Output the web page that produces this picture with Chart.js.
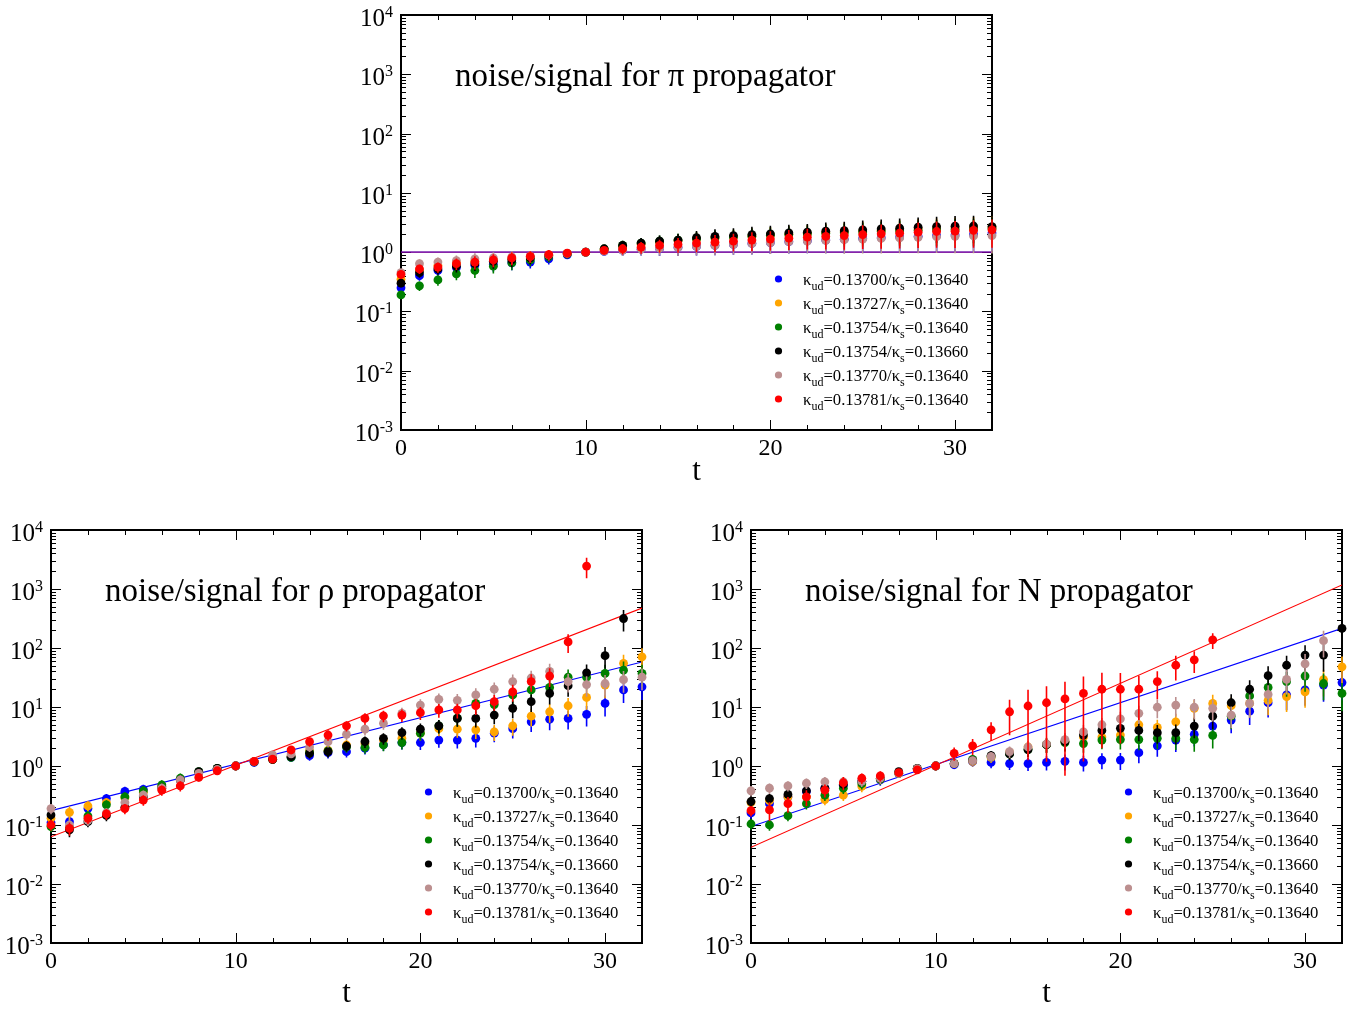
<!DOCTYPE html>
<html>
<head>
<meta charset="utf-8">
<script src="https://cdn.jsdelivr.net/npm/chart.js@4.4.1/dist/chart.umd.min.js"></script>
<style>
  body { margin: 0; background: #fff; width: 1361px; height: 1011px; position: relative; overflow: hidden; }
  canvas { position: absolute; }
</style>
</head>
<body>
<canvas id="piChart" width="680" height="500" style="left:340px;top:0px"></canvas>
<canvas id="rhoChart" width="680" height="506" style="left:0px;top:505px"></canvas>
<canvas id="nChart" width="661" height="506" style="left:700px;top:505px"></canvas>
<script>
// time slices
var tValues = [0,1,2,3,4,5,6,7,8,9,10,11,12,13,14,15,16,17,18,19,20,21,22,23,24,25,26,27,28,29,30,31,32];
var xTickLabels = [0, 10, 20, 30];
var yExponents = [-3, -2, -1, 0, 1, 2, 3, 4];
var kappaUd = ['0.13700', '0.13727', '0.13754', '0.13754', '0.13770', '0.13781'];
var kappaS  = ['0.13640', '0.13640', '0.13640', '0.13660', '0.13640', '0.13640'];

// pi propagator noise/signal
var piBlue   = [0.25,0.4,0.49,0.55,0.6,0.62,0.66,0.68,0.77,0.9,1.0,1.03,1.08,1.12,1.15,1.2,1.25,1.3,1.35,1.4,1.45,1.5,1.55,1.6,1.65,1.7,1.75,1.8,1.85,1.9,1.95,2.0,2.1];
var piOrange = [0.35,0.5,0.6,0.66,0.7,0.74,0.78,0.83,0.88,0.94,1.0,1.12,1.25,1.36,1.45,1.55,1.65,1.73,1.8,1.88,1.95,2.0,2.08,2.15,2.2,2.27,2.33,2.4,2.47,2.52,2.58,2.62,2.65];
var piGreen  = [0.19,0.27,0.34,0.43,0.49,0.58,0.66,0.74,0.84,0.93,1.0,1.13,1.3,1.42,1.53,1.6,1.68,1.75,1.8,1.86,1.92,1.98,2.03,2.08,2.13,2.18,2.23,2.28,2.33,2.38,2.42,2.46,2.5];
var piBlack  = [0.3,0.45,0.52,0.58,0.64,0.7,0.74,0.8,0.88,0.94,1.0,1.14,1.3,1.42,1.53,1.6,1.75,1.84,1.9,1.98,2.04,2.12,2.17,2.26,2.3,2.38,2.47,2.54,2.64,2.7,2.74,2.76,2.7];
var piBrown  = [0.45,0.64,0.68,0.72,0.77,0.8,0.83,0.86,0.9,0.95,1.0,1.04,1.08,1.12,1.16,1.2,1.25,1.3,1.35,1.4,1.45,1.5,1.54,1.58,1.62,1.66,1.7,1.74,1.78,1.82,1.85,1.88,1.9];
var piRed    = [0.42,0.52,0.56,0.64,0.68,0.74,0.8,0.85,0.91,0.96,1.0,1.07,1.14,1.21,1.3,1.35,1.42,1.47,1.53,1.6,1.66,1.72,1.79,1.84,1.9,1.98,2.04,2.09,2.17,2.23,2.26,2.32,2.38];
var piErr    = [0.15,0.18,0.2,0.22,0.25,0.25,0.25,0.22,0.2,0.15,0.1,0.15,0.2,0.22,0.25,0.28,0.3,0.32,0.33,0.35,0.36,0.37,0.38,0.4,0.42,0.43,0.44,0.45,0.46,0.47,0.48,0.49,0.5];
var piFitBlue = [1, 1];
var piFitRed  = [1, 1];

// rho propagator noise/signal
var rhoBlue   = [0.11,0.114,0.19,0.28,0.37,0.4,0.45,0.58,0.78,0.9,1.0,1.15,1.3,1.4,1.5,1.68,1.75,2.0,2.3,2.5,2.5,2.75,2.75,2.95,3.6,4.3,5.6,6.2,6.4,7.5,11.5,19.5,22];
var rhoOrange = [0.13,0.164,0.21,0.24,0.29,0.36,0.45,0.58,0.78,0.9,1.0,1.18,1.3,1.45,1.8,1.85,2.27,2.4,2.75,2.95,3.6,4.3,4.2,4.1,3.8,4.8,7.0,8.3,10.5,14.5,23.5,55,71];
var rhoGreen  = [0.094,0.09,0.142,0.22,0.3,0.38,0.48,0.62,0.8,0.91,1.0,1.18,1.3,1.4,1.7,1.8,2.1,2.07,2.27,2.5,3.6,4.8,6.5,11.5,11,16,19.5,21.5,32,32,37,42,37];
var rhoBlack  = [0.148,0.083,0.114,0.145,0.2,0.3,0.42,0.58,0.8,0.91,1.0,1.18,1.3,1.44,1.64,1.75,2.18,2.6,2.95,3.67,4.2,4.8,6.4,6.4,7.3,9.5,12.3,17,23,38,74,316,null];
var rhoBrown  = [0.19,0.1,0.12,0.16,0.24,0.32,0.42,0.58,0.75,0.88,1.0,1.2,1.54,1.6,2.1,2.58,3.45,4.2,5.3,7.8,10.8,13.5,13,16,20,27,31,40,27,24,25,29,32];
var rhoRed    = [0.1,0.088,0.13,0.154,0.19,0.265,0.39,0.46,0.64,0.83,1.0,1.2,1.31,1.87,2.58,3.35,4.8,6.4,7.1,7.3,8.0,8.9,8.9,10.5,12.3,18,27,33.5,127,2450,null,null,null];
var rhoErr    = [0.2,0.25,0.2,0.2,0.2,0.2,0.2,0.2,0.15,0.15,0.1,0.15,0.15,0.15,0.18,0.2,0.2,0.22,0.22,0.24,0.25,0.26,0.28,0.3,0.3,0.32,0.33,0.35,0.35,0.38,0.4,0.4,0.4];
var rhoFitBlue = [0.175, 58];
var rhoFitRed  = [0.063, 475];

// nucleon propagator noise/signal
var nBlue   = [0.16,0.23,0.3,0.37,0.42,0.47,0.55,0.58,0.75,0.9,1.0,1.05,1.18,1.15,1.1,1.1,1.15,1.2,1.15,1.26,1.26,1.68,2.2,2.75,3.45,4.75,6.0,8.5,11.8,16,19.5,23.5,26];
var nOrange = [0.24,0.26,0.3,0.3,0.27,0.32,0.45,0.6,0.75,0.9,1.0,1.1,1.2,1.4,1.7,2.1,2.3,2.6,3.1,3.1,3.35,5.0,4.5,5.6,9.5,11.5,10.5,11.5,13,15,18,29,48];
var nGreen  = [0.104,0.1,0.144,0.23,0.32,0.42,0.5,0.6,0.75,0.9,1.0,1.1,1.3,1.45,1.6,1.9,2.3,2.5,2.4,2.75,2.8,2.8,2.95,2.95,2.8,3.3,7,15.4,21.5,27,33.5,25,17];
var nBlack  = [0.25,0.28,0.33,0.38,0.42,0.49,0.55,0.62,0.8,0.91,1.0,1.1,1.25,1.5,1.6,1.9,2.3,2.6,3.35,4.0,4.35,4.0,3.67,3.67,4.75,7.0,11.8,20,34,51,76,76,215];
var nBrown  = [0.38,0.42,0.46,0.51,0.54,0.54,0.55,0.62,0.75,0.9,1.0,1.1,1.23,1.44,1.75,2.1,2.36,2.8,3.8,5.0,6.3,7.8,9.9,10.8,9.9,9.5,7.3,11.5,16.3,29.5,54,133,null];
var nRed    = [0.175,0.18,0.23,0.3,0.39,0.52,0.62,0.68,0.77,0.86,1.0,1.64,2.2,4.1,8.3,10.4,11.8,13.7,17,20,20,20,27,51,63,137,null,null,null,null,null,null,null];
var nErr    = [0.2,0.2,0.2,0.2,0.2,0.2,0.2,0.2,0.15,0.12,0.1,0.15,0.18,0.2,0.22,0.25,0.27,0.3,0.3,0.3,0.32,0.34,0.35,0.37,0.38,0.4,0.4,0.42,0.44,0.45,0.46,0.48,0.5];
var nRedErr = [0.2,0.35,0.3,0.3,0.25,0.25,0.2,0.2,0.15,0.12,0.1,0.25,0.3,0.35,0.6,0.88,0.9,0.95,0.93,0.9,0.88,0.7,0.5,0.45,0.4,0.3,null,null,null,null,null,null,null];
var nFitBlue = [0.094, 215];
var nFitRed  = [0.042, 1170];
var fitT = [0, 32];

var seriesColors = ['#0000ff', '#ffa500', '#008000', '#000000', '#bc8f8f', '#ff0000'];
var serif = '"Liberation Serif", "Times New Roman", serif';

function points(vals) {
  var out = [];
  for (var i = 0; i < tValues.length; i++) {
    if (vals[i] != null) out.push({x: tValues[i], y: vals[i]});
  }
  return out;
}

function scatterSet(vals, errs, idx) {
  return {
    type: 'scatter',
    data: points(vals),
    errRel: errs,
    rawVals: vals,
    backgroundColor: seriesColors[idx],
    borderColor: seriesColors[idx],
    borderWidth: 0,
    pointRadius: 4.4,
    order: 5 - idx,
    clip: false
  };
}

function fitSet(vals, color, order) {
  return {
    type: 'line',
    data: [{x: fitT[0], y: vals[0]}, {x: fitT[1], y: vals[1]}],
    borderColor: color,
    borderWidth: 1.1,
    pointRadius: 0,
    order: order,
    fill: false
  };
}

var errorBars = {
  id: 'errorBars',
  beforeDatasetDraw: function(chart, args) {
    var ds = chart.data.datasets[args.index];
    if (!ds.errRel) return;
    var ctx = chart.ctx, x = chart.scales.x, y = chart.scales.y;
    ctx.save();
    ctx.strokeStyle = ds.borderColor;
    ctx.lineWidth = 1.6;
    ctx.beginPath();
    for (var i = 0; i < tValues.length; i++) {
      var v = ds.rawVals[i], r = ds.errRel[i];
      if (v == null || r == null) continue;
      var lo = v * (1 - r), hi = v * (1 + r);
      var px = x.getPixelForValue(tValues[i]);
      var pLo = lo > 0 ? y.getPixelForValue(lo) : chart.chartArea.bottom;
      ctx.moveTo(px, pLo);
      ctx.lineTo(px, y.getPixelForValue(hi));
    }
    ctx.stroke();
    ctx.restore();
  }
};

var axesFrame = {
  id: 'axesFrame',
  beforeDatasetsDraw: function(chart) {
    var ctx = chart.ctx, a = chart.chartArea, x = chart.scales.x, y = chart.scales.y;
    ctx.save();
    ctx.strokeStyle = '#000';
    ctx.lineWidth = 1;
    ctx.beginPath();
    for (var t = 0; t <= 32; t += 2) {
      var px = Math.round(x.getPixelForValue(t)) + 0.5;
      var len = xTickLabels.indexOf(t) >= 0 ? 10 : 5;
      ctx.moveTo(px, a.bottom); ctx.lineTo(px, a.bottom - len);
      ctx.moveTo(px, a.top); ctx.lineTo(px, a.top + len);
    }
    yExponents.forEach(function(e) {
      for (var m = 1; m <= 9; m++) {
        if (e === yExponents[yExponents.length - 1] && m > 1) break;
        var py = Math.round(y.getPixelForValue(m * Math.pow(10, e))) + 0.5;
        var len = m === 1 ? 10 : 5;
        ctx.moveTo(a.left, py); ctx.lineTo(a.left + len, py);
        ctx.moveTo(a.right, py); ctx.lineTo(a.right - len, py);
      }
    });
    ctx.stroke();
    ctx.lineWidth = 2;
    ctx.strokeRect(a.left, a.top, a.right - a.left, a.bottom - a.top);
    ctx.restore();
  },
  afterDraw: function(chart, args, opts) {
    var ctx = chart.ctx, a = chart.chartArea, x = chart.scales.x, y = chart.scales.y;
    ctx.save();
    ctx.fillStyle = '#000';
    ctx.textBaseline = 'alphabetic';
    // x tick labels
    ctx.font = '24px ' + serif;
    ctx.textAlign = 'center';
    xTickLabels.forEach(function(t) {
      ctx.fillText(String(t), x.getPixelForValue(t), a.bottom + 25);
    });
    ctx.font = '31px ' + serif;
    ctx.fillText('t', (a.left + a.right) / 2, a.bottom + opts.tOffset);
    // y tick labels 10^e
    ctx.textAlign = 'left';
    yExponents.forEach(function(e) {
      var py = y.getPixelForValue(Math.pow(10, e));
      var sup = String(e);
      ctx.font = '16px ' + serif;
      var ws = ctx.measureText(sup).width;
      ctx.font = '25px ' + serif;
      var wb = ctx.measureText('10').width;
      var right = a.left - 8;
      ctx.fillText('10', right - ws - wb, py + 11);
      ctx.font = '16px ' + serif;
      ctx.fillText(sup, right - ws, py + 2);
    });
    // title
    ctx.font = '33px ' + serif;
    ctx.fillText(opts.title, a.left + 54, a.top + 71);
    // legend
    var rowY = a.bottom - 151;
    for (var i = 0; i < kappaUd.length; i++) {
      var cy = rowY + i * 24;
      ctx.fillStyle = seriesColors[i];
      ctx.beginPath();
      ctx.arc(a.left + 377.5, cy, 3.6, 0, Math.PI * 2);
      ctx.fill();
      ctx.fillStyle = '#000';
      var tx = a.left + 402, base = cy + 6;
      var parts = [['κ', 0], ['ud', 1], ['=' + kappaUd[i] + '/', 0], ['κ', 0], ['s', 1], ['=' + kappaS[i], 0]];
      parts.forEach(function(p) {
        ctx.font = (p[1] ? '12px ' : '16.7px ') + serif;
        ctx.fillText(p[0], tx, base + (p[1] ? 5 : 0));
        tx += ctx.measureText(p[0]).width;
      });
    }
    ctx.restore();
  }
};

function makeChart(id, title, pad, tOffset, series, errs, redErrs, fitBlue, fitRed, redLineColor) {
  var datasets = [];
  series.forEach(function(vals, idx) {
    datasets.push(scatterSet(vals, (idx === 5 && redErrs) ? redErrs : errs, idx));
  });
  datasets.push(fitSet(fitBlue, '#0000ff', 20));
  datasets.push(fitSet(fitRed, redLineColor, 19));
  return new Chart(document.getElementById(id), {
    type: 'scatter',
    data: { datasets: datasets },
    options: {
      responsive: false,
      animation: false,
      layout: { padding: pad },
      scales: {
        x: { type: 'linear', min: 0, max: 32, display: false },
        y: { type: 'logarithmic', min: 1e-3, max: 1e4, display: false }
      },
      plugins: {
        legend: { display: false },
        tooltip: { enabled: false },
        axesFrame: { title: title, tOffset: tOffset }
      }
    },
    plugins: [errorBars, axesFrame]
  });
}

makeChart('piChart', 'noise/signal for π propagator', {left: 61, top: 15, right: 28, bottom: 70}, 50,
  [piBlue, piOrange, piGreen, piBlack, piBrown, piRed], piErr, null, piFitBlue, piFitRed, 'rgba(220,0,60,0.6)');
makeChart('rhoChart', 'noise/signal for ρ propagator', {left: 51, top: 25, right: 38, bottom: 68}, 59,
  [rhoBlue, rhoOrange, rhoGreen, rhoBlack, rhoBrown, rhoRed], rhoErr, null, rhoFitBlue, rhoFitRed, '#ff0000');
makeChart('nChart', 'noise/signal for N propagator', {left: 51, top: 25, right: 19, bottom: 68}, 59,
  [nBlue, nOrange, nGreen, nBlack, nBrown, nRed], nErr, nRedErr, nFitBlue, nFitRed, '#ff0000');
</script>
</body>
</html>
